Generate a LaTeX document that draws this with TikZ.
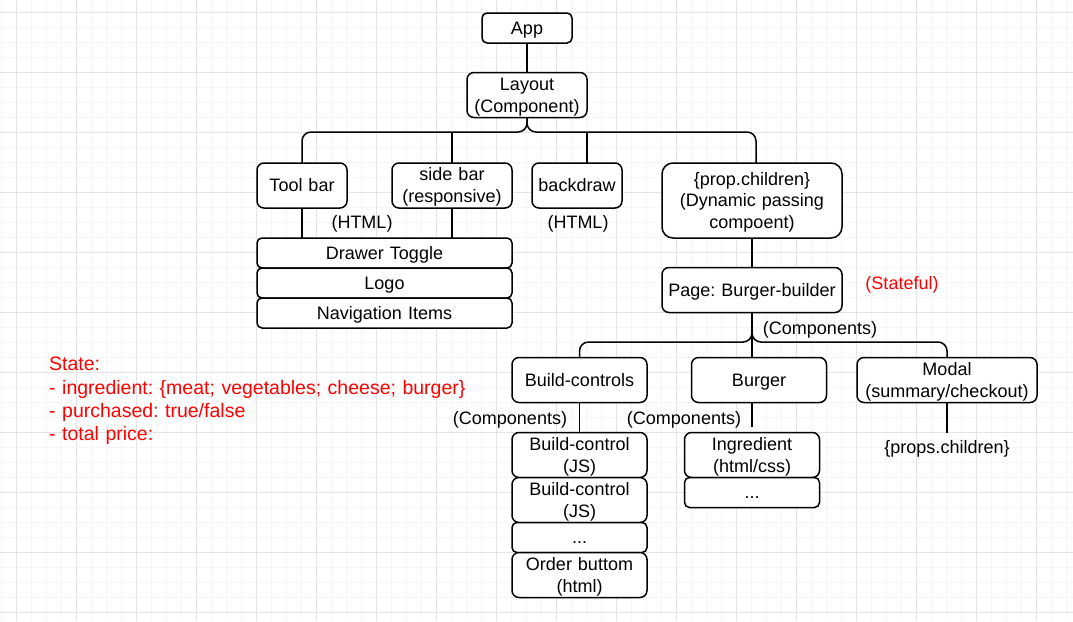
\documentclass[tikz,border=0pt]{standalone}
\usepackage{fontspec}
\setmainfont{Liberation Sans}
\usepackage{tikz}
\usetikzlibrary{positioning}
\definecolor{gridmajor}{HTML}{E4E4E4}
\definecolor{gridminor}{HTML}{F5F5F5}
\definecolor{statered}{HTML}{FF0000}
\frenchspacing

\begin{document}
\begin{tikzpicture}[
x=1pt, y=-1pt,
font=\fontsize{18}{21.6}\selectfont,
every node/.style={execute at begin node={\rule{0pt}{0.905em}}, execute at end node={\rule[-0.212em]{0pt}{0pt}}},
roundbox/.style={rectangle, draw=black, fill=white, line width=1.5pt, rounded corners=7pt, inner sep=0pt, outer sep=0pt, align=center, minimum height=45pt},
thinbox/.style={roundbox, minimum height=30pt, rounded corners=5pt},
boxwidth/.style={minimum width=#1, text width=#1-6pt},
edge/.style={draw=black, line width=1.5pt, rounded corners=9pt},
redtext/.style={text=statered}
]
    %Grid
    \useasboundingbox (0,0) rectangle (1073,621);
    \foreach \gx in {1.5,16.5,...,1072}
        \draw[gridminor, line width=1pt] (\gx,0) -- (\gx,621);
    \foreach \gy in {12.5,27.5,...,620}
        \draw[gridminor, line width=1pt] (0,\gy) -- (1073,\gy);
    \foreach \gx in {16.5,76.5,...,1072}
        \draw[gridmajor, line width=1pt] (\gx,0) -- (\gx,621);
    \foreach \gy in {12.5,72.5,...,620}
        \draw[gridmajor, line width=1pt] (0,\gy) -- (1073,\gy);

    %Nodes
    \node[thinbox, boxwidth=90pt] (app) at (527,28) {App};
    \node[roundbox, boxwidth=120pt] (layout) at (527,95) {Layout\\(Component)};
    \node[roundbox, boxwidth=90pt] (toolbar) at (302,185.5) {Tool bar};
    \node[roundbox, boxwidth=120pt] (sidebar) at (452,185.5) {side bar\\(responsive)};
    \node[roundbox, boxwidth=90pt] (backdraw) at (577,185.5) {backdraw};
    \node[roundbox, boxwidth=180pt, minimum height=75pt, rounded corners=11pt]
        (children) at (752,200.5) {\{prop.children\}\\(Dynamic passing\\compoent)};
    \node (htmlone) at (362,222) {(HTML)};
    \node (htmltwo) at (578,222) {(HTML)};

    \node[thinbox, boxwidth=255pt] (drawer) at (384.5,253) {Drawer Toggle};
    \node[thinbox, boxwidth=255pt, below=0pt of drawer] (logo) {Logo};
    \node[thinbox, boxwidth=255pt, below=0pt of logo] (navitems) {Navigation Items};

    \node[roundbox, boxwidth=180pt] (page) at (752,290) {Page: Burger-builder};
    \node[redtext] (stateful) at (902,283) {(Stateful)};
    \node (comps) at (820,328) {(Components)};

    \node[roundbox, boxwidth=135pt] (buildctls) at (579.5,380) {Build-controls};
    \node[roundbox, boxwidth=135pt] (burger) at (759,380) {Burger};
    \node[roundbox, boxwidth=180pt] (modal) at (947,380) {Modal\\(summary/checkout)};
    \node (compsleft) at (510,418) {(Components)};
    \node (compsmid) at (684,418) {(Components)};

    \node[roundbox, boxwidth=135pt] (ctlone) at (579.5,455) {Build-control\\(JS)};
    \node[roundbox, boxwidth=135pt, below=0pt of ctlone] (ctltwo) {Build-control\\(JS)};
    \node[thinbox, boxwidth=135pt, below=0pt of ctltwo] (ctldots) {...};
    \node[roundbox, boxwidth=135pt, below=0pt of ctldots] (order) {Order buttom\\(html)};

    \node[roundbox, boxwidth=135pt] (ingredient) at (752,455) {Ingredient\\(html/css)};
    \node[thinbox, boxwidth=135pt, below=0pt of ingredient] (ingdots) {...};
    \node (props) at (947,447) {\{props.children\}};

    \node[redtext, anchor=west, align=left, text width=430pt, inner sep=0pt, font=\fontsize{19.5}{23.4}\selectfont]
        (state) at (49,399) {State:\\- ingredient: \{meat; vegetables; cheese; burger\}\\- purchased: true/false\\- total price:};

    %Lines
    \coordinate (topbus) at (527,132);
    \coordinate (pagebus) at (752,342);
    \draw[edge] (app) -- (layout);
    \draw[edge] (layout.south) -- (topbus) -| (toolbar.north);
    \draw[edge] (layout.south) -- (topbus) -| ([xshift=4pt]children.north);
    \draw[edge] (sidebar.north) -- (sidebar.north |- topbus);
    \draw[edge] ([xshift=10pt]backdraw.north) -- ([xshift=10pt]backdraw.north |- topbus);
    \draw[edge] (toolbar.south) -- (toolbar.south |- drawer.north);
    \draw[edge] (sidebar.south) -- (sidebar.south |- drawer.north);
    \draw[edge] (children) -- (page);

    \draw[edge] (page.south) -- (pagebus) -| (buildctls.north);
    \draw[edge] (page.south) -- (pagebus) -| (modal.north);
    \draw[edge] (page.south) -- (page.south |- burger.north);
    \draw[edge] (buildctls) -- (ctlone);
    \draw[edge] (burger.south -| ingredient) -- ([yshift=5.5pt]ingredient.north);
    \draw[edge] (modal) -- (props);
\end{tikzpicture}
\end{document}
